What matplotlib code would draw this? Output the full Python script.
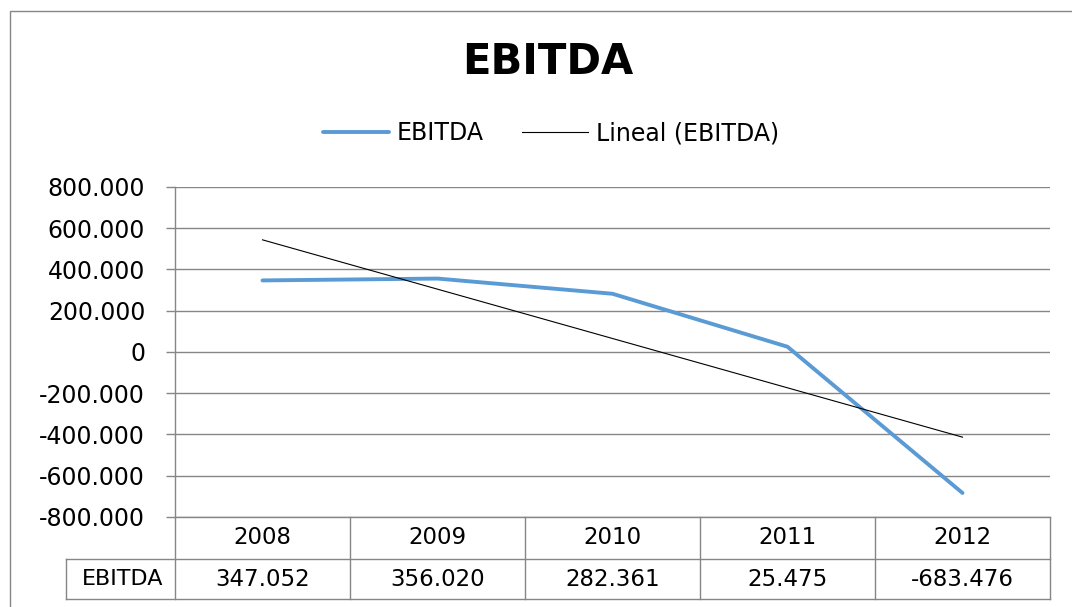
import matplotlib
matplotlib.use("Agg")
import matplotlib.pyplot as plt
import matplotlib.transforms as mtransforms
from matplotlib.lines import Line2D
from matplotlib.patches import Rectangle
import numpy as np

# ---- data ----
years = ["2008", "2009", "2010", "2011", "2012"]
ebitda = [347052, 356020, 282361, 25475, -683476]
ebitda_labels = ["347.052", "356.020", "282.361", "25.475", "-683.476"]
yticks = [-800000, -600000, -400000, -200000, 0, 200000, 400000, 600000, 800000]
ytick_labels = ["-800.000", "-600.000", "-400.000", "-200.000", "0",
                "200.000", "400.000", "600.000", "800.000"]
series_name = "EBITDA"
trend_name = "Lineal (EBITDA)"
title = "EBITDA"

W, H = 1072, 607
GRAY = "#868686"
BLUE = "#5B9BD5"
FONT = "DejaVu Sans"

fig = plt.figure(figsize=(W / 100, H / 100), dpi=100)
fig.patch.set_facecolor("white")

# outer chart border (left + top visible)
fig.add_artist(Rectangle((10 / W, -0.05), 1.2, 1 - 11 / H + 0.05,
                         transform=fig.transFigure, fill=False,
                         edgecolor=GRAY, linewidth=1.0))

ax_l, ax_r, ax_t, ax_b = 175, 1050, 187, 517
ax = fig.add_axes([ax_l / W, 1 - ax_b / H, (ax_r - ax_l) / W, (ax_b - ax_t) / H])

x = np.arange(len(years))
ax.plot(x, ebitda, color=BLUE, linewidth=2.8, solid_capstyle="round",
        label=series_name, zorder=3)
coef = np.polyfit(x, ebitda, 1)
ax.plot(x, np.polyval(coef, x), color="black", linewidth=0.8,
        label=trend_name, zorder=4)

ax.set_xlim(-0.5, len(years) - 0.5)
ax.set_ylim(yticks[0], yticks[-1])
ax.set_yticks(yticks)
ax.set_yticklabels(ytick_labels, fontsize=17, family=FONT)
ax.set_xticks([])
ax.tick_params(axis="y", direction="out", length=6.5, width=1.0,
               color=GRAY, pad=15)
ax.grid(axis="y", color=GRAY, linewidth=1.0)
ax.set_axisbelow(True)
for s in ["top", "right", "bottom"]:
    ax.spines[s].set_visible(False)
ax.spines["left"].set_color(GRAY)
ax.spines["left"].set_linewidth(1.0)

# ---- data table below the axes ----
trans = mtransforms.blended_transform_factory(ax.transData, ax.transAxes)
hpx = ax_b - ax_t
row1 = -(559 - ax_b) / hpx
row2 = -(599 - ax_b) / hpx
col_w_px = (ax_r - ax_l) / len(years)
lab_left = -0.5 - (ax_l - 66) / col_w_px

def tline(xs, ys):
    ax.add_line(Line2D(xs, ys, transform=trans, color=GRAY, linewidth=1.0,
                       clip_on=False))

tline([-0.5, len(years) - 0.5], [0, 0])
tline([lab_left, len(years) - 0.5], [row1, row1])
tline([lab_left, len(years) - 0.5], [row2, row2])
tline([lab_left, lab_left], [row1, row2])
for i in range(len(years) + 1):
    tline([i - 0.5, i - 0.5], [0, row2])

for i, (yr, lab) in enumerate(zip(years, ebitda_labels)):
    ax.text(i, row1 / 2, yr, transform=trans, ha="center", va="center",
            fontsize=16.5, family=FONT)
    ax.text(i, (row1 + row2) / 2, lab, transform=trans, ha="center",
            va="center", fontsize=16.5, family=FONT)
ax.text((lab_left - 0.5) / 2 + 0.01, (row1 + row2) / 2, series_name,
        transform=trans, ha="center", va="center", fontsize=16, family=FONT)

# ---- title and legend ----
fig.text(548 / W, 1 - 62 / H, title, ha="center", va="center",
         fontsize=30, fontweight="bold", family=FONT)
leg = fig.legend(loc="center", bbox_to_anchor=(551 / W, 1 - 133 / H),
                 ncol=2, frameon=False, prop={"family": FONT, "size": 17},
                 handlelength=2.8, handletextpad=0.35, columnspacing=1.6)

fig.savefig("out.png", dpi=100)
